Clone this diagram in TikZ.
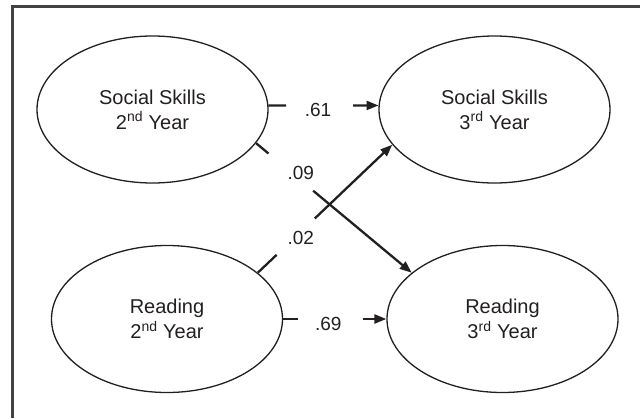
\documentclass[tikz,border=0pt]{standalone}
\usepackage{fontspec}
\setmainfont{Liberation Sans}
\usetikzlibrary{shapes.geometric,arrows.meta,calc}
\definecolor{ink}{HTML}{231F20}
\begin{document}
\begin{tikzpicture}[x=1pt,y=-1pt,
  construct/.style={draw=ink,ellipse,line width=1.3pt,minimum width=231pt,minimum height=147pt,
    inner sep=0pt,align=center,text=ink,font=\fontsize{20}{25}\selectfont},
  coef/.style={anchor=base,text=ink,inner sep=0pt,font=\fontsize{19}{21}\selectfont},
  link/.style={draw=ink,line width=2.3pt},
  path arrow/.style={link,-{Triangle[length=12pt,width=9pt]}},
  frame/.style={draw=ink!85,line width=2.2pt}]
\useasboundingbox (0,0) rectangle (640,418);
% open frame: left and top rules only
\draw[frame] (12.5,418) -- (12.5,6.5) -- (640,6.5);

% latent constructs
\node[construct] (ss2) at (152.5,109.5) {Social Skills\\2\textsuperscript{nd} Year};
\node[construct] (ss3) at (494.5,109.5) {Social Skills\\3\textsuperscript{rd} Year};
\node[construct] (rd2) at (167,319) {Reading\\2\textsuperscript{nd} Year};
\node[construct] (rd3) at (502.5,319) {Reading\\3\textsuperscript{rd} Year};

% stability paths
\draw[link] (ss2.2) -- ($(ss2.2)!0.16!(ss3.178)$);
\draw[path arrow] ($(ss2.2)!0.77!(ss3.178)$) -- (ss3.178);
\draw[link] (rd2.east) -- ($(rd2.east)!0.14!(rd3.west)$);
\draw[path arrow] ($(rd2.east)!0.77!(rd3.west)$) -- (rd3.west);

% cross-lagged paths
\draw[link] (ss2.-18.1) -- ($(ss2.-18.1)!0.08!(rd3.153.8)$);
\draw[path arrow] ($(ss2.-18.1)!0.367!(rd3.153.8)$) -- (rd3.153.8);
\draw[link] (rd2.27.3) -- ($(rd2.27.3)!0.14!(ss3.-161.4)$);
\draw[path arrow] ($(rd2.27.3)!0.424!(ss3.-161.4)$) -- (ss3.-161.4);

% path coefficients
\node[coef] (c61) at (318,116.7) {.61};
\node[coef] (c69) at (328.3,330) {.69};
\node[coef] (c09) at (300.8,179.3) {.09};
\node[coef] (c02) at (300.8,244.3) {.02};
\end{tikzpicture}
\end{document}
